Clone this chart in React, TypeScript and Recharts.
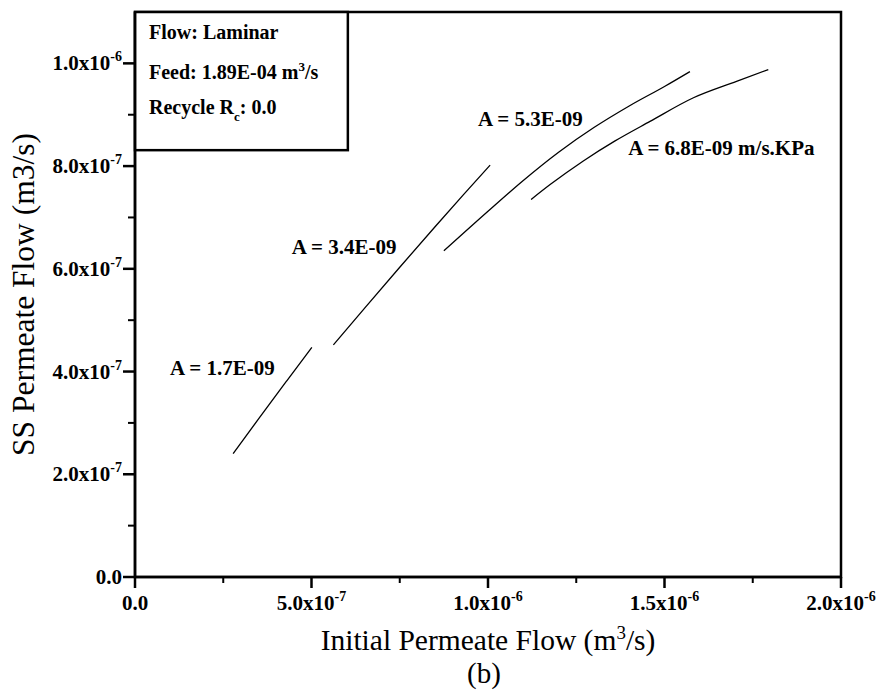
import React from 'react';
import { LineChart, Line, XAxis, YAxis, ReferenceArea, ReferenceDot } from 'recharts';

const FONT = "'Liberation Serif', 'Times New Roman', Times, serif";

// Curves: x = initial permeate flow (m3/s), y = SS permeate flow (m3/s)
const curveA17 = [
  { x: 2.78e-7, y: 2.4e-7 },
  { x: 3.5e-7, y: 3.08e-7 },
  { x: 4.3e-7, y: 3.82e-7 },
  { x: 5.01e-7, y: 4.47e-7 },
];
const curveA34 = [
  { x: 5.62e-7, y: 4.52e-7 },
  { x: 6.5e-7, y: 5.23e-7 },
  { x: 7.5e-7, y: 6.03e-7 },
  { x: 8.5e-7, y: 6.82e-7 },
  { x: 9.3e-7, y: 7.44e-7 },
  { x: 1.006e-6, y: 8.02e-7 },
];
const curveA53 = [
  { x: 8.75e-7, y: 6.35e-7 },
  { x: 1.0e-6, y: 7.12e-7 },
  { x: 1.1e-6, y: 7.72e-7 },
  { x: 1.2e-6, y: 8.27e-7 },
  { x: 1.3e-6, y: 8.75e-7 },
  { x: 1.4e-6, y: 9.17e-7 },
  { x: 1.5e-6, y: 9.55e-7 },
  { x: 1.572e-6, y: 9.84e-7 },
];
const curveA68 = [
  { x: 1.122e-6, y: 7.35e-7 },
  { x: 1.176e-6, y: 7.64e-7 },
  { x: 1.27e-6, y: 8.1e-7 },
  { x: 1.36e-6, y: 8.49e-7 },
  { x: 1.459e-6, y: 8.87e-7 },
  { x: 1.582e-6, y: 9.33e-7 },
  { x: 1.704e-6, y: 9.65e-7 },
  { x: 1.794e-6, y: 9.88e-7 },
];

const annotations = [
  { x: 0.99e-7, y: 4.06e-7, text: 'A = 1.7E-09' },
  { x: 4.44e-7, y: 6.42e-7, text: 'A = 3.4E-09' },
  { x: 9.72e-7, y: 8.91e-7, text: 'A = 5.3E-09' },
  { x: 1.397e-6, y: 8.36e-7, text: 'A = 6.8E-09 m/s.KPa' },
];

const xDomain = [0, 2e-6];
const yDomain = [0, 1.1e-6];
const xMajorTicks = [0, 5e-7, 1e-6, 1.5e-6, 2e-6];
const xMajorLabels = [['0.0', ''], ['5.0x10', '-7'], ['1.0x10', '-6'], ['1.5x10', '-6'], ['2.0x10', '-6']];
const xMinorTicks = [2.5e-7, 7.5e-7, 1.25e-6, 1.75e-6];
const yMajorTicks = [0, 2e-7, 4e-7, 6e-7, 8e-7, 1e-6];
const yMajorLabels = [['0.0', ''], ['2.0x10', '-7'], ['4.0x10', '-7'], ['6.0x10', '-7'], ['8.0x10', '-7'], ['1.0x10', '-6']];
const yMinorTicks = [1e-7, 3e-7, 5e-7, 7e-7, 9e-7];
const infoBox = { x1: 0, x2: 6.03e-7, y1: 8.31e-7, y2: 1.1e-6 };

const xAllTicks = [...xMajorTicks, ...xMinorTicks].sort((a, b) => a - b);
const yAllTicks = [...yMajorTicks, ...yMinorTicks].sort((a, b) => a - b);

const findIdx = (arr: number[], v: number) => arr.findIndex((t) => Math.abs(t - v) < 1e-12);

const XTick = (props: any) => {
  const { x, y, payload } = props;
  const i = findIdx(xMajorTicks, payload.value);
  if (i < 0) return <line x1={x} y1={y} x2={x} y2={y + 6} stroke="#000" strokeWidth={2} />;
  const [base, exp] = xMajorLabels[i];
  return (
    <g>
      <line x1={x} y1={y} x2={x} y2={y + 11} stroke="#000" strokeWidth={2.5} />
      <text x={x} y={y + 33} textAnchor="middle" fontFamily={FONT} fontSize={21} fontWeight="bold" fill="#000">
        {base}
        {exp ? <tspan dy={-9} fontSize={14}>{exp}</tspan> : null}
      </text>
    </g>
  );
};

const YTick = (props: any) => {
  const { x, y, payload } = props;
  const i = findIdx(yMajorTicks, payload.value);
  if (i < 0) return <line x1={x} y1={y} x2={x - 7} y2={y} stroke="#000" strokeWidth={2} />;
  const [base, exp] = yMajorLabels[i];
  return (
    <g>
      <line x1={x} y1={y} x2={x - 12} y2={y} stroke="#000" strokeWidth={2.5} />
      <text x={x - 13} y={y + 7} textAnchor="end" fontFamily={FONT} fontSize={21} fontWeight="bold" fill="#000">
        {base}
        {exp ? <tspan dy={-9} fontSize={14}>{exp}</tspan> : null}
      </text>
    </g>
  );
};

const XTitle = (props: any) => {
  const vb = props.viewBox || { x: 135, y: 577, width: 706, height: 119 };
  const cx = vb.x + vb.width / 2;
  return (
    <g>
      <text x={cx} y={vb.y + 73} textAnchor="middle" fontFamily={FONT} fontSize={29.5} fill="#000">
        Initial Permeate Flow (m<tspan dy={-11} fontSize={19}>3</tspan>
        <tspan dy={11}>/s)</tspan>
      </text>
      <text x={cx - 4} y={vb.y + 106} textAnchor="middle" fontFamily={FONT} fontSize={29} fill="#000">
        (b)
      </text>
    </g>
  );
};

const YTitle = (props: any) => {
  const vb = props.viewBox || { x: 0, y: 12, width: 135, height: 565 };
  const cx = vb.x + 23;
  const cy = vb.y + vb.height / 2;
  return (
    <text
      x={cx}
      y={cy}
      transform={`rotate(-90, ${cx}, ${cy})`}
      textAnchor="middle"
      dominantBaseline="central"
      fontFamily={FONT}
      fontSize={31.5}
      fill="#000"
    >
      SS Permeate Flow (m3/s)
    </text>
  );
};

const InfoShape = (props: any) => {
  const { x, y, width, height } = props;
  return (
    <g>
      <rect x={x} y={y} width={width} height={height} fill="#fff" stroke="#000" strokeWidth={2.5} />
      <text x={x + 14} y={y + 27} fontFamily={FONT} fontSize={20} fontWeight="bold" fill="#000">Flow: Laminar</text>
      <text x={x + 14} y={y + 67} fontFamily={FONT} fontSize={20} fontWeight="bold" fill="#000">
        Feed: 1.89E-04 m<tspan dy={-8} fontSize={13}>3</tspan>
        <tspan dy={8}>/s</tspan>
      </text>
      <text x={x + 14} y={y + 102} fontFamily={FONT} fontSize={20} fontWeight="bold" fill="#000">
        Recycle R<tspan dy={7} fontSize={13}>c</tspan>
        <tspan dy={-7}>: 0.0</tspan>
      </text>
    </g>
  );
};

const AnnotationShape = (text: string) => (props: any) => {
  const { cx, cy } = props;
  return (
    <text x={cx} y={cy + 7} textAnchor="start" fontFamily={FONT} fontSize={21} fontWeight="bold" fill="#000">
      {text}
    </text>
  );
};

const series = [curveA17, curveA34, curveA53, curveA68];

export default function App() {
  return (
    <div style={{ position: 'absolute', left: 0, top: 0, width: 881, height: 696, background: '#fff' }}>
      <LineChart width={881} height={696} margin={{ top: 12, right: 40, bottom: 0, left: 0 }}>
        <XAxis
          dataKey="x"
          type="number"
          domain={xDomain}
          ticks={xAllTicks}
          interval={0}
          tickSize={0}
          tickMargin={0}
          tickLine={false}
          tick={<XTick />}
          height={119}
          axisLine={{ stroke: '#000', strokeWidth: 2.5 }}
          allowDataOverflow
          label={{ content: <XTitle /> }}
        />
        <YAxis
          dataKey="y"
          type="number"
          domain={yDomain}
          ticks={yAllTicks}
          interval={0}
          tickSize={0}
          tickMargin={0}
          tickLine={false}
          tick={<YTick />}
          width={135}
          axisLine={{ stroke: '#000', strokeWidth: 2.5 }}
          allowDataOverflow
          label={{ content: <YTitle /> }}
        />
        <ReferenceArea
          x1={xDomain[0]}
          x2={xDomain[1]}
          y1={yDomain[0]}
          y2={yDomain[1]}
          fill="none"
          stroke="#000"
          strokeWidth={2.5}
          ifOverflow="visible"
        />
        <ReferenceArea
          x1={infoBox.x1}
          x2={infoBox.x2}
          y1={infoBox.y1}
          y2={infoBox.y2}
          ifOverflow="visible"
          shape={<InfoShape />}
        />
        {series.map((d, i) => (
          <Line
            key={i}
            data={d}
            dataKey="y"
            type="monotone"
            stroke="#000"
            strokeWidth={1.3}
            dot={false}
            activeDot={false}
            isAnimationActive={false}
          />
        ))}
        {annotations.map((a, i) => (
          <ReferenceDot key={'a' + i} x={a.x} y={a.y} r={0} ifOverflow="visible" shape={AnnotationShape(a.text)} />
        ))}
      </LineChart>
    </div>
  );
}
